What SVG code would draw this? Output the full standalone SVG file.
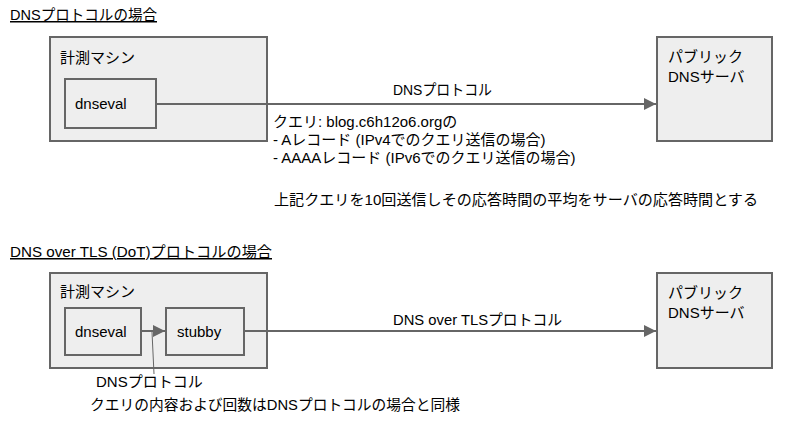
<svg xmlns="http://www.w3.org/2000/svg" width="787" height="425" viewBox="0 0 787 425">
<defs>
<style>
text{font-family:"Liberation Sans","Noto Sans CJK JP",sans-serif;font-size:15px;fill:#000}
.box{fill:#eeeeee;stroke:#666666;stroke-width:2}
.conn{stroke:#666666;stroke-width:2;fill:none}
.thin{stroke:#666666;stroke-width:1;fill:none}
.title{text-decoration:underline}
</style>
<marker id="arr" viewBox="0 0 10 10" refX="10" refY="5" markerWidth="6" markerHeight="6" markerUnits="strokeWidth" orient="auto">
<path d="M0,0 L10,5 L0,10 z" fill="#666666"/>
</marker>
</defs>
<rect width="787" height="425" fill="#ffffff"/>
<text class="title" x="10" y="20" textLength="147" lengthAdjust="spacingAndGlyphs">DNSプロトコルの場合</text>
<g id="machine1"><rect class="box" x="50" y="37" width="217" height="104"/><text x="60" y="63">計測マシン</text></g>
<g id="dnseval1"><rect class="box" x="65" y="79" width="91" height="49"/><text x="75" y="109">dnseval</text></g>
<g id="public1"><rect class="box" x="657" y="37" width="115" height="104"/><text x="668" y="62">パブリック</text><text x="668" y="82">DNSサーバ</text></g>
<g id="connectors1">
<line class="conn" x1="156" y1="104" x2="656" y2="104" marker-end="url(#arr)"/>
<text x="393" y="95" textLength="99" lengthAdjust="spacingAndGlyphs">DNSプロトコル</text>
</g>
<g id="notes1">
<text x="273" y="127">クエリ: blog.c6h12o6.orgの</text>
<text x="273" y="145">- Aレコード (IPv4でのクエリ送信の場合)</text>
<text x="273" y="163">- AAAAレコード (IPv6でのクエリ送信の場合)</text>
<text x="274" y="205" textLength="484" lengthAdjust="spacingAndGlyphs">上記クエリを10回送信しその応答時間の平均をサーバの応答時間とする</text>
</g>
<text class="title" x="10" y="257" textLength="262" lengthAdjust="spacingAndGlyphs">DNS over TLS (DoT)プロトコルの場合</text>
<g id="machine2"><rect class="box" x="50" y="273" width="217" height="95"/><text x="60" y="297">計測マシン</text></g>
<g id="dnseval2"><rect class="box" x="65" y="308" width="76" height="47"/><text x="75" y="337">dnseval</text></g>
<g id="stubby"><rect class="box" x="166" y="308" width="78" height="47"/><text x="177" y="337">stubby</text></g>
<g id="public2"><rect class="box" x="657" y="273" width="115" height="95"/><text x="668" y="298">パブリック</text><text x="668" y="318">DNSサーバ</text></g>
<g id="connectors2">
<line class="conn" x1="141" y1="331" x2="165" y2="331" marker-end="url(#arr)"/>
<line class="conn" x1="244" y1="331" x2="656" y2="331" marker-end="url(#arr)"/>
<line class="thin" x1="152" y1="332" x2="154" y2="374"/>
<text x="393" y="325" textLength="169" lengthAdjust="spacingAndGlyphs">DNS over TLSプロトコル</text>
<text x="96" y="387">DNSプロトコル</text>
</g>
<text x="90" y="410" textLength="370" lengthAdjust="spacingAndGlyphs">クエリの内容および回数はDNSプロトコルの場合と同様</text>
</svg>
